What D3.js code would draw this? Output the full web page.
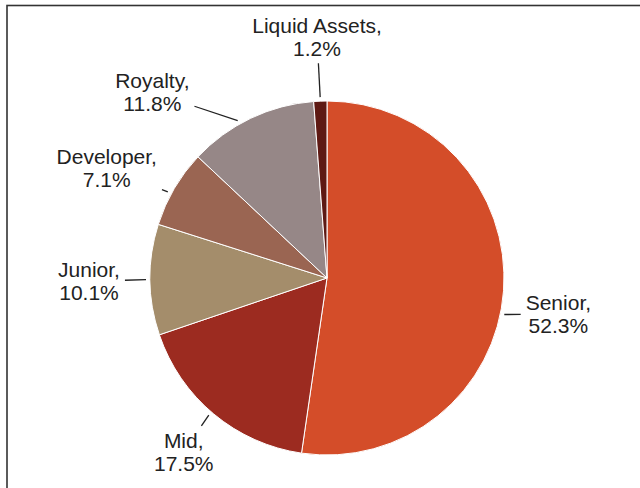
<!DOCTYPE html>
<html lang="en">
    <head>
        <meta charset="utf-8">
        <title>Holdings by Company Type</title>
        <script src="https://d3js.org/d3.v7.min.js"></script>
        <style type="text/css">
          body{
            margin:0;
            background:#fff;
          }
          svg{
            width:640px;
            height:488px;
            display:block;
          }
          .labels{
            font-size: 21px;
            font-family: "Liberation Sans", Arial, sans-serif;
            fill: #222;
          }
        </style>
    </head>
    <body>
        <svg></svg>

        <script type="text/javascript">

        //Data, in clockwise order from 12 o'clock
        const categories = ["Senior", "Mid", "Junior", "Developer", "Royalty", "Liquid Assets"];
        const shares = [52.3, 17.5, 10.1, 7.1, 11.8, 1.2];
        const sliceColors = ["#d44d29", "#9c2b20", "#a48d6b", "#9a6552", "#968787", "#5e1913"];

        //label nudges (layout only), relative to a ring of labels outside the pie
        const labelNudge = {
          "Senior": [-6, 19],
          "Mid": [9, -9],
          "Junior": [0, 1],
          "Developer": [-15, 10],
          "Royalty": [-72, 29],
          "Liquid Assets": [-1, -3]
        };
        //where the leader meets the pie, in degrees from the slice middle
        const leaderTurn = {"Senior": 7.5, "Royalty": -4, "Developer": -2, "Mid": 1};

        const dataset = categories.map((c, i) => ({name: c, value: shares[i]}));

        const cx = 327, cy = 278, radius = 177, labelR = 238;

        const svg = d3.select("svg");

        //frame round the chart, runs off the right and bottom
        svg.append("rect")
           .attr("x", 7)
           .attr("y", 5.5)
           .attr("width", 700)
           .attr("height", 600)
           .attr("fill", "none")
           .attr("stroke", "#333")
           .attr("stroke-width", 1.6);

        const color = d3.scaleOrdinal()
                        .domain(categories)
                        .range(sliceColors);

        const pie = d3.pie()
                      .sort(null)
                      .value(d => d.value);

        const arc = d3.arc()
                      .innerRadius(0)
                      .outerRadius(radius);

        const arcs = pie(dataset);

        const g = svg.append("g")
                     .attr("transform", "translate(" + [cx, cy] + ")");

        g.selectAll("path")
         .data(arcs)
         .enter()
         .append("path")
         .attr("d", arc)
         .attr("fill", d => color(d.data.name))
         .attr("stroke", "#fff")
         .attr("stroke-width", 1);

        const polar = (a, r) => [r * Math.sin(a), -r * Math.cos(a)];

        //labels
        const lab = g.selectAll("g.lab")
                     .data(arcs)
                     .enter()
                     .append("g")
                     .attr("class", "lab");

        lab.each(function(d){
          const mid = (d.startAngle + d.endAngle) / 2;
          const p = polar(mid, labelR);
          const n = labelNudge[d.data.name];
          const x = p[0] + n[0], y = p[1] + n[1];
          const t = d3.select(this).append("text")
                      .attr("class", "labels")
                      .attr("text-anchor", "middle");
          t.append("tspan").attr("x", x).attr("y", y - 4).text(d.data.name + ",");
          t.append("tspan").attr("x", x).attr("y", y + 19).text(d3.format(".1f")(d.data.value) + "%");

          //leader from the label box to just outside the slice
          const b = t.node().getBBox();
          const turn = (leaderTurn[d.data.name] || 0) * Math.PI / 180;
          const end = polar(mid + turn, radius + 4);
          const pad = 5;
          const bx0 = b.x - pad, bx1 = b.x + b.width + pad;
          const by0 = b.y + 2 - pad, by1 = b.y + b.height - 2 + pad;
          //point on the box edge along the line from the box centre to the end point
          const mx = (bx0 + bx1) / 2, my = (by0 + by1) / 2;
          const dx = end[0] - mx, dy = end[1] - my;
          const s = Math.min(
            dx !== 0 ? ((dx > 0 ? bx1 : bx0) - mx) / dx : Infinity,
            dy !== 0 ? ((dy > 0 ? by1 : by0) - my) / dy : Infinity
          );
          if (s < 1) {
            d3.select(this).append("line")
              .attr("x1", mx + dx * s)
              .attr("y1", my + dy * s)
              .attr("x2", end[0])
              .attr("y2", end[1])
              .attr("stroke", "#222")
              .attr("stroke-width", 1.3);
          }
        });
        </script>
    </body>
</html>
